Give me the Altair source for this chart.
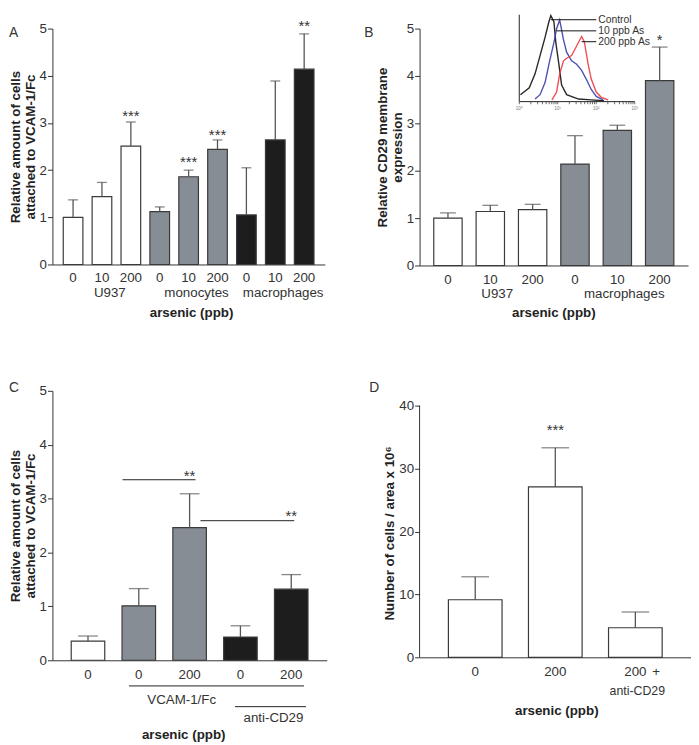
import altair as alt
import pandas as pd
import numpy as np

FONT = "Liberation Sans"
TXT = "#333333"
EDGE = "#3a3a3a"
ERRC = "#555555"
WHITE, GRAY, BLACK = "#ffffff", "#868d94", "#1d1d1d"
LFS = 13.5   # tick / group label size
TFS = 13.5   # bold title size

# ---------------- Panel A ----------------
a_keys = ["U937|0", "U937|10", "U937|200", "mono|0", "mono|10", "mono|200",
          "macro|0", "macro|10", "macro|200"]
a_groups = ["U937", "U937", "U937", "monocytes", "monocytes", "monocytes",
            "macrophages", "macrophages", "macrophages"]
a_vals = [1.00, 1.44, 2.51, 1.12, 1.86, 2.44, 1.05, 2.64, 4.14]
a_errs = [1.37, 1.74, 3.02, 1.22, 2.00, 2.64, 2.05, 3.89, 4.89]
a_star_keys = ["U937|200", "mono|10", "mono|200", "macro|200"]
a_star_vals = [3.21, 2.23, 2.81, 5.12]
a_star_text = ["***", "***", "***", "**"]
a_group_keys = ["U937|10", "mono|10", "macro|10"]
a_group_text = ["U937", "monocytes", "macrophages"]

# ---------------- Panel B ----------------
b_keys = ["U937|0", "U937|10", "U937|200", "macro|0", "macro|10", "macro|200"]
b_groups = ["U937", "U937", "U937", "macrophages", "macrophages", "macrophages"]
b_vals = [1.00, 1.14, 1.18, 2.14, 2.85, 3.90]
b_errs = [1.11, 1.27, 1.29, 2.74, 2.96, 4.61]
b_star_keys = ["macro|200"]
b_star_vals = [4.81]
b_star_text = ["*"]
b_group_keys = ["U937|10", "macro|10"]
b_group_text = ["U937", "macrophages"]

# inset histogram (log10 fluorescence decade, relative count)
ctrl_x = [0.03, 0.26, 0.41, 0.54, 0.67, 0.77, 0.82, 0.90, 0.95, 1.03, 1.10, 1.23, 1.54, 1.87, 2.20]
ctrl_y = [0.08, 0.16, 0.32, 0.53, 0.74, 0.92, 0.99, 0.92, 0.68, 0.43, 0.19, 0.08, 0.03, 0.02, 0.01]
as10_x = [0.41, 0.54, 0.67, 0.79, 0.90, 0.97, 1.05, 1.15, 1.23, 1.36, 1.49, 1.62, 1.74, 1.87, 2.00, 2.18]
as10_y = [0.03, 0.08, 0.22, 0.47, 0.68, 0.84, 0.94, 0.71, 0.57, 0.47, 0.43, 0.36, 0.26, 0.14, 0.06, 0.02]
as200_x = [0.85, 0.97, 1.05, 1.15, 1.23, 1.36, 1.49, 1.62, 1.69, 1.79, 1.87, 2.00, 2.13, 2.31]
as200_y = [0.02, 0.11, 0.32, 0.47, 0.50, 0.53, 0.64, 0.75, 0.69, 0.43, 0.26, 0.11, 0.05, 0.02]
inset_names = ["Control", "10 ppb As", "200 ppb As"]
inset_line_from = [0.82, 0.97, 1.62]
inset_line_y = [0.943, 0.815, 0.69]
inset_decades = [0, 1, 2, 3]
inset_decade_labels = ["10⁰", "10¹", "10²", "10³"]

# ---------------- Panel C ----------------
c_keys = ["ctrl|0", "vcam|0", "vcam|200", "anti|0", "anti|200"]
c_groups = ["none", "VCAM-1/Fc", "VCAM-1/Fc", "anti-CD29", "anti-CD29"]
c_vals = [0.355, 1.01, 2.46, 0.43, 1.32]
c_errs = [0.45, 1.33, 3.09, 0.64, 1.59]
c_sig_from = ["vcam|0", "vcam|200"]
c_sig_to = ["vcam|200", "anti|200"]
c_sig_y = [3.35, 2.59]
c_star_keys = ["vcam|200", "anti|200"]
c_star_vals = [3.47, 2.74]
c_star_text = ["**", "**"]

# ---------------- Panel D ----------------
d_keys = ["d|0", "d|200", "d|200|anti"]
d_groups = ["cells", "cells", "cells"]
d_vals = [9.15, 27.1, 4.7]
d_errs = [12.8, 33.3, 7.2]
d_star_keys = ["d|200"]
d_star_vals = [36.6]
d_star_text = ["***"]


def xenc(field, keys, pi, po, lpad):
    return alt.X(field, type="nominal", sort=keys,
                 scale=alt.Scale(domain=keys, paddingInner=pi, paddingOuter=po),
                 axis=alt.Axis(title=None, labelAngle=0, ticks=False, labelPadding=lpad,
                               labelExpr="split(datum.label, '|')[1]",
                               labelFontSize=LFS, labelColor=TXT, domainColor="#333"))


def yenc(field, domain, values, title, title_y=None, show_domain=True):
    ax = dict(values=values, title=title, grid=False, tickSize=5, labelPadding=1,
              titlePadding=2, domain=show_domain, labelFontSize=LFS, labelColor=TXT,
              titleFontSize=TFS, titleFontWeight="bold", titleColor="#222",
              domainColor="#333", tickColor="#333", titleLineHeight=15)
    if title_y is not None:
        ax["titleY"] = title_y
    return alt.Y(field, type="quantitative",
                 scale=alt.Scale(domain=domain, nice=False, zero=True),
                 axis=alt.Axis(**ax))


def one():
    return pd.DataFrame({"k": [0]})


def bar_layers(keys, groups, vals, errs, cdom, crange, ydom, yvals, ytitle,
               pi, po, cap, lpad, star_keys, star_vals, star_text, title_y=None,
               show_domain=True):
    df = pd.DataFrame({"key": keys, "group": groups, "value": vals, "err": errs})
    X = xenc("key", keys, pi, po, lpad)
    Y = lambda f: yenc(f, ydom, yvals, ytitle, title_y, show_domain)
    bars = alt.Chart(df).mark_bar(stroke=EDGE, strokeWidth=1.2).encode(
        x=X, y=Y("value"),
        color=alt.Color("group:N", scale=alt.Scale(domain=cdom, range=crange), legend=None))
    rule = alt.Chart(df).mark_rule(color=ERRC, strokeWidth=1.3).encode(
        x=X, y=Y("value"), y2="err:Q")
    caps = alt.Chart(df).mark_tick(color=ERRC, thickness=1.3, size=cap).encode(
        x=X, y=Y("err"))
    sdf = pd.DataFrame({"key": star_keys, "value": star_vals, "text": star_text})
    stars = alt.Chart(sdf).mark_text(fontSize=15, color=TXT, baseline="alphabetic", dy=8,
                                     font=FONT).encode(
        x=X, y=Y("value"), text="text:N")
    return X, Y, [bars, rule, caps, stars]


def label(text, x, y, size=LFS, bold=False, align="center"):
    return alt.Chart(one()).mark_text(text=text, fontSize=size, font=FONT,
                                      fontWeight="bold" if bold else "normal",
                                      color="#222" if bold else TXT, align=align,
                                      baseline="middle").encode(
        x=alt.value(x), y=alt.value(y))


def keytext(X, key, text, dx, y, size=LFS):
    return alt.Chart(pd.DataFrame({"key": [key], "text": [text]})).mark_text(
        fontSize=size, color=TXT, dx=dx, baseline="middle", font=FONT).encode(
        x=X, y=alt.value(y), text="text:N")


# ---------------- build A ----------------
AW, AH = 276, 239
XA, YA, la = bar_layers(a_keys, a_groups, a_vals, a_errs,
                        ["U937", "monocytes", "macrophages"], [WHITE, GRAY, BLACK],
                        [0, 5], [0, 1, 2, 3, 4, 5],
                        ["Relative amount of cells", "attached to VCAM-1/Fc"],
                        0.32, 0.375, 10, 6, a_star_keys, a_star_vals, a_star_text)
ga = [keytext(XA, k, t, 8, 268) for k, t in zip(a_group_keys, a_group_text)]
panelA = alt.layer(*la, *ga, label("arsenic (ppb)", 141, 288, TFS, True),
                   label("A", -44, 5, 14, align="left")).properties(width=AW, height=AH)

# ---------------- build B ----------------
BW, BH = 272, 240
XB, YB, lb = bar_layers(b_keys, b_groups, b_vals, b_errs,
                        ["U937", "macrophages"], [WHITE, GRAY],
                        [0, 5], [0, 1, 2, 3, 4, 5],
                        ["Relative CD29 membrane", "expression"],
                        0.33, 0.335, 16, 7, b_star_keys, b_star_vals, b_star_text)
gb = [keytext(XB, k, t, 7, 269) for k, t in zip(b_group_keys, b_group_text)]
main_b = alt.layer(*lb, *gb, label("arsenic (ppb)", 136, 288, TFS, True),
                   label("B", -56, 5, 14, align="left"))

# inset
inset_df = pd.concat([
    pd.DataFrame({"dec": ctrl_x, "cnt": ctrl_y, "s": "Control", "o": range(len(ctrl_x))}),
    pd.DataFrame({"dec": as10_x, "cnt": as10_y, "s": "10 ppb As", "o": range(len(as10_x))}),
    pd.DataFrame({"dec": as200_x, "cnt": as200_y, "s": "200 ppb As", "o": range(len(as200_x))}),
])
ISX = alt.Scale(domain=[0, 3], range=[101, 218], nice=False, zero=False)
ISY = alt.Scale(domain=[0, 1], range=[74, -14], nice=False, zero=False)
IX = lambda f: alt.X(f, type="quantitative", scale=ISX, axis=None)
IY = lambda f: alt.Y(f, type="quantitative", scale=ISY, axis=None)

curves = alt.Chart(inset_df).mark_line(strokeWidth=1.4, opacity=0.9).encode(
    x=IX("dec"), y=IY("cnt"), order="o:Q",
    color=alt.Color("s:N", scale=alt.Scale(domain=inset_names,
                                           range=["#111111", "#3b3fa6", "#ee3a44"]),
                    legend=None))
frame_df = pd.DataFrame({"x0": [0, 0], "x1": [3, 0], "y0": [0, 0], "y1": [0, 1]})
frame = alt.Chart(frame_df).mark_rule(color="#222", strokeWidth=1).encode(
    x=IX("x0"), x2="x1:Q", y=IY("y0"), y2="y1:Q")
minor = sorted(set(round(float(np.log10(m * 10 ** d)), 4)
                   for d in range(3) for m in range(1, 10)) | {3.0})
tick_df = pd.DataFrame({"t": minor, "a": [0.0] * len(minor), "b": [-0.03] * len(minor)})
iticks = alt.Chart(tick_df).mark_rule(color="#444", strokeWidth=0.8).encode(
    x=IX("t"), y=IY("a"), y2="b:Q")
dlab = alt.Chart(pd.DataFrame({"t": inset_decades, "txt": inset_decade_labels,
                               "yy": [-0.08] * 4})).mark_text(
    fontSize=4.5, color="#777", font=FONT, baseline="middle").encode(
    x=IX("t"), y=IY("yy"), text="txt:N")
leg_df = pd.DataFrame({"a": inset_line_from, "b": [2.0, 2.0, 2.0],
                       "cnt": inset_line_y, "s": inset_names, "tx": [2.05, 2.05, 2.05]})
leg_lines = alt.Chart(leg_df).mark_rule(color="#111", strokeWidth=1).encode(
    x=IX("a"), x2="b:Q", y=IY("cnt"))
leg_text = alt.Chart(leg_df).mark_text(fontSize=10.5, color=TXT, align="left",
                                       baseline="middle", font=FONT).encode(
    x=IX("tx"), y=IY("cnt"), text="s:N")
inset = alt.layer(curves, frame, iticks, dlab, leg_lines, leg_text)
panelB = alt.layer(main_b, inset).resolve_scale(
    x="independent", y="independent", color="independent").properties(width=BW, height=BH)

# ---------------- build C ----------------
CW, CH = 278, 273
XC, YC, lc = bar_layers(c_keys, c_groups, c_vals, c_errs,
                        ["none", "VCAM-1/Fc", "anti-CD29"], [WHITE, GRAY, BLACK],
                        [0, 5], [0, 1, 2, 3, 4, 5],
                        ["Relative amount of cells", "attached to VCAM-1/Fc"],
                        0.34, 0.37, 20, 7, c_star_keys, c_star_vals, c_star_text)
XC1 = xenc("k1", c_keys, 0.34, 0.37, 7)
sig1 = alt.Chart(pd.DataFrame({"k1": c_sig_from[:1], "k2": c_sig_to[:1], "value": c_sig_y[:1]})).mark_rule(
    color="#222", strokeWidth=1, xOffset=-16.5, x2Offset=6).encode(
    x=XC1, x2="k2:N", y=YC("value"))
sig2 = alt.Chart(pd.DataFrame({"k1": c_sig_from[1:], "k2": c_sig_to[1:], "value": c_sig_y[1:]})).mark_rule(
    color="#222", strokeWidth=1, xOffset=11, x2Offset=3).encode(
    x=XC1, x2="k2:N", y=YC("value"))
vline = alt.Chart(pd.DataFrame({"k1": ["vcam|0"], "k2": ["anti|200"]})).mark_rule(
    color="#222", strokeWidth=1, xOffset=-10, x2Offset=13).encode(
    x=XC1, x2="k2:N", y=alt.value(299))
aline = alt.Chart(pd.DataFrame({"k1": ["anti|0"], "k2": ["anti|200"]})).mark_rule(
    color="#222", strokeWidth=1, xOffset=-5.5, x2Offset=15).encode(
    x=XC1, x2="k2:N", y=alt.value(320))
ct1 = keytext(XC, "vcam|200", "VCAM-1/Fc", -8, 313)
ct2 = keytext(XC, "anti|200", "anti-CD29", -18, 332)
panelC = alt.layer(*lc, sig1, sig2, vline, aline, ct1, ct2,
                   label("arsenic (ppb)", 133, 349, TFS, True),
                   label("C", -44, -3, 14, align="left")).properties(width=CW, height=CH)

# ---------------- build D ----------------
DW, DH = 275, 270
d_top = 40 * DH / 255.0
XD, YD, ld = bar_layers(d_keys, d_groups, d_vals, d_errs, ["cells"], [WHITE],
                        [0, d_top], [0, 10, 20, 30, 40],
                        "Number of cells / area x 10⁶",
                        0.33, 0.36, 28, 7, d_star_keys, d_star_vals, d_star_text,
                        title_y=144, show_domain=False)
daxis = alt.Chart(pd.DataFrame({"lo": [0], "hi": [40]})).mark_rule(
    color="#333", strokeWidth=1).encode(x=alt.value(0), y=YD("lo"), y2="hi:Q")
dplus = keytext(XD, "d|200|anti", "+", 21, 285)
danti = keytext(XD, "d|200|anti", "anti-CD29", 2, 304, 12.5)
panelD = alt.layer(*ld, daxis, dplus, danti,
                   label("arsenic (ppb)", 139, 324, TFS, True),
                   label("D", -51, -3, 14, align="left")).properties(width=DW, height=DH)

chart = alt.concat(panelA, panelB, panelC, panelD, columns=2,
                   spacing={"row": 127, "column": 94}, bounds="flush").properties(
    padding={"top": 0, "left": 0, "right": 0, "bottom": 0}
).configure(font=FONT).configure_view(stroke=None).configure_axis(
    labelFont=FONT, titleFont=FONT)

chart.save("out.html", embed_options={"renderer": "svg", "actions": False})
